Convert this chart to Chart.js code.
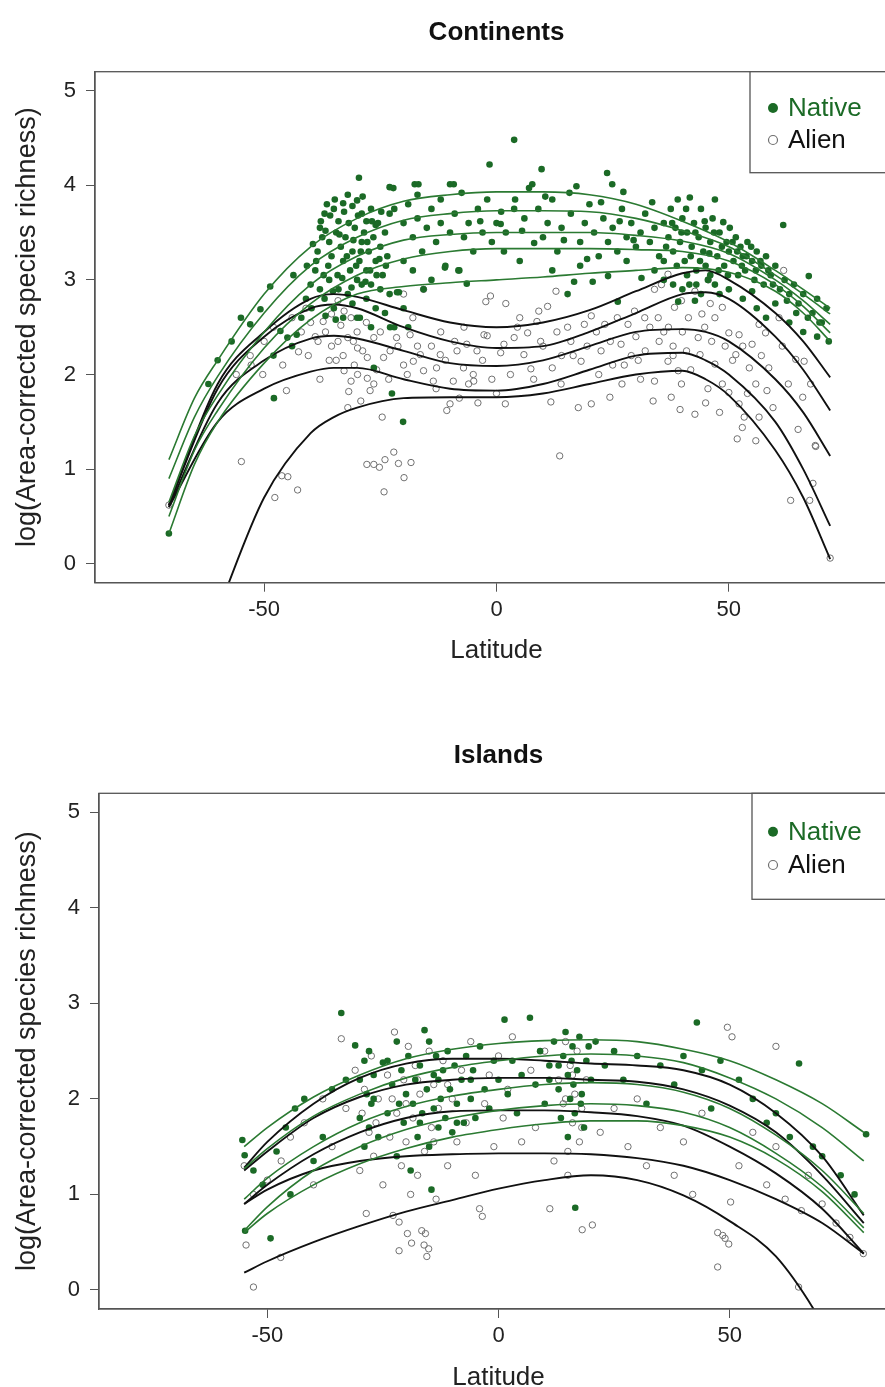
<!DOCTYPE html>
<html>
<head>
<meta charset="utf-8">
<script src="https://cdn.jsdelivr.net/npm/chart.js@4.4.1/dist/chart.umd.min.js"></script>
<style>
html, body { margin: 0; padding: 0; background: #fff; overflow: hidden; }
.painel { position: absolute; left: 0; }
#p1 { top: 0; }
#p2 { top: 695px; }
</style>
</head>
<body>
<div class="painel" id="p1"><canvas id="continentes" width="905" height="695"></canvas></div>
<div class="painel" id="p2"><canvas id="ilhas" width="905" height="720"></canvas></div>
<script>
// eixos
var xTicks = [-50, 0, 50];
var yTicks = [0, 1, 2, 3, 4, 5];
var rotuloX = 'Latitude';
var rotuloY = 'log(Area-corrected species richness)';
var nomesSerie = ['Native', 'Alien'];

// Continents - pontos [latitude, valor]
var contNative = [
  [-70.5,0.32],[-62,1.9],[-60,2.15],[-57,2.35],[-55,2.6],[-53,2.53],[-50.8,2.69],[-48.7,2.93],[-43.7,3.05],[-40.8,3.15],
  [-46.5,2.46],[-45,2.39],[-43,2.42],[-44,2.3],[-42,2.6],[-41,2.8],[-48,2.2],[-47.9,1.75],
  [-38,3.55],[-37,3.7],[-36.5,3.8],[-35,3.75],[-34,3.62],[-33,3.81],[-32,3.9],[-31,3.78],[-30,3.84],[-29.6,4.08],
  [-29,3.7],[-28,3.62],[-27,3.75],[-26,3.58],[-38.5,3.3],[-37.5,3.45],[-36,3.4],[-35.5,3.25],[-34.5,3.5],[-33.5,3.35],
  [-33,3.2],[-32.5,3.45],[-31.5,3.1],[-31,3.3],[-30.5,3.55],[-30,3.0],[-29.5,3.2],[-29,3.4],[-28.5,3.5],[-28,3.1],
  [-27.5,3.3],[-27,2.95],[-26.5,3.45],[-26,3.2],[-25.5,3.6],[-25,3.35],[-24.5,3.05],[-24,3.5],[-23.5,3.25],[-23,3.7],
  [-39,3.1],[-40,2.95],[-38,2.9],[-37,2.8],[-36,3.0],[-35,2.7],[-34,2.9],[-33,2.6],[-32,2.85],[-31,2.75],
  [-30,2.6],[-29,2.95],[-28,2.8],[-27,2.5],[-26,2.7],[-25,2.9],[-24,2.65],[-23,2.85],[-22,2.5],[-21,2.87],[-20,2.7],
  [-20.1,1.5],[-26.4,2.07],[-22.5,1.8],[-22.9,2.5],[-19,2.5],[-29.4,2.6],
  [-37.8,3.62],[-36.8,3.52],[-35.8,3.68],[-34.8,3.85],[-33.8,3.48],[-32.8,3.72],[-31.8,3.6],[-30.8,3.42],[-29.8,3.68],[-28.8,3.88],
  [-27.8,3.4],[-26.8,3.62],[-25.8,3.05],[-24.8,3.72],[-23.8,3.15],[-36.2,3.15],[-34.2,3.05],[-32.2,3.25],[-30.2,3.15],[-28.2,2.98],
  [-39.5,3.38],[-38.8,3.2],[-37.2,3.05],[-35.2,2.88],[-33.2,3.02],[-31.2,2.92],[-29.2,3.3],[-27.2,3.1],[-25.2,3.22],[-39.8,2.7],
  [-36.8,2.62],[-34.6,2.58],
  [-23,3.98],[-17.6,4.01],[-10,4.01],[-22.2,3.97],[-16.8,4.01],[-9.2,4.01],[-22,3.75],[-20,3.6],[-19,3.8],[-18,3.45],
  [-17,3.65],[-16,3.3],[-15,3.55],[-14,3.75],[-13,3.4],[-12,3.6],[-11,3.15],[-10,3.5],[-9,3.7],[-8,3.1],
  [-7,3.45],[-6.4,2.96],[-6,3.6],[-5,3.3],[-4,3.75],[-3,3.5],[-2,3.85],[-1,3.4],[0,3.6],[-15.7,2.9],
  [-11.1,3.13],[-8.2,3.1],[-18,3.1],[-20,3.2],[-14,3.0],[-21.4,2.87],[-17,3.9],[-12,3.85],
  [-7.5,3.92],[-3.5,3.62],[1,3.72],[5.5,3.52],[10.5,3.88],[14.5,3.42],[19.5,3.22],[22.5,3.82],[26.5,3.62],[29.5,3.42],[33.5,3.82],
  [3.8,4.48],[-1.5,4.22],[9.7,4.17],[23.8,4.13],[24.9,4.01],[27.3,3.93],[7.7,4.01],[17.2,3.99],[7,3.97],[15.7,3.92],
  [3.8,3.75],[0.9,3.59],[1.6,3.3],[8.1,3.39],[13.1,3.3],[15.3,2.85],[16.7,2.98],[20.7,2.98],[24,3.04],[26.1,2.77],
  [31.2,3.02],[2,3.5],[4,3.85],[5,3.2],[6,3.65],[9,3.75],[10,3.45],[11,3.6],[12,3.85],[14,3.55],
  [16,3.7],[18,3.4],[19,3.6],[20,3.8],[21,3.5],[22,3.25],[23,3.65],[24,3.4],[25,3.55],[26,3.3],
  [27,3.75],[28,3.45],[29,3.6],[30,3.35],[31,3.5],[32,3.7],[33,3.4],[34,3.55],[35,3.25],[12,3.1],
  [18,3.15],[28,3.2],[34,3.1],[36,3.0],
  [36,3.6],[37,3.45],[37.5,3.75],[38,3.3],[38.5,3.55],[39,3.85],[39.5,3.4],[40,3.65],[40.5,3.2],[41,3.5],
  [41.6,3.87],[42,3.35],[42.5,3.6],[43,3.1],[43.5,3.45],[44,3.75],[44.5,3.3],[45,3.55],[45.5,3.0],[46,3.4],
  [46.5,3.65],[47,3.85],[47.5,3.25],[48,3.5],[48.8,3.61],[49,3.15],[49.5,3.4],[50,3.3],[50.2,3.55],[51,3.2],
  [51.5,3.45],[52,3.05],[52.5,3.35],[53,3.25],[53.5,3.1],[54,3.4],[55,3.2],[55.5,3.0],[56,3.3],[57,3.15],
  [57.5,2.95],[58,3.25],[59,3.05],[60,3.15],[61,2.9],[61.7,3.58],[62,3.0],[63,2.85],[64,2.95],[65,2.75],
  [66,2.85],[67.2,3.04],[68,2.65],[69,2.8],[70,2.55],[71,2.7],[39.1,2.77],[42.7,2.78],[38,2.95],[40,2.9],
  [44,2.85],[36,3.2],[41,3.05],[45,3.15],[47,2.95],[50,2.9],[53,2.8],[56,2.7],[58,2.6],[60,2.75],
  [63,2.55],[66,2.45],[69,2.4],[71.5,2.35],
  [36.5,3.35],[37.8,3.6],[38.8,3.15],[39.8,3.5],[40.8,3.75],[41.8,3.25],[42.8,3.5],[43.8,3.2],[44.8,3.62],[45.8,3.28],
  [46.8,3.5],[47.8,3.1],[48.5,3.35],[49.8,3.05],[50.8,3.4],[51.8,3.3],[52.8,3.15],[53.8,3.25],[54.8,3.35],[55.8,3.1],
  [56.8,3.2],[58.5,3.1],[59.5,2.95],[62.5,2.78],[64.5,2.65],[67,2.6],[69.5,2.55],[43,2.95],[48,2.85],[46,3.05],
  [41.5,2.95],[55,2.88]
];
var contAlien = [
  [-70.5,0.62],[-54.9,1.08],[-47.7,0.7],[-46.2,0.93],[-44.9,0.92],[-42.8,0.78],[-27.9,1.05],[-26.4,1.05],[-25.2,1.02],[-24,1.1],
  [-22.1,1.18],[-21.1,1.06],[-19.9,0.91],[-18.4,1.07],[-24.2,0.76],[13.6,1.14],[63.3,0.67],[67.4,0.67],[68.1,0.85],[68.7,1.24],[71.8,0.06],
  [-45.2,1.83],[-50.3,2.0],[-52.8,2.1],[-40.5,2.2],[-42.6,2.24],[-38.4,2.35],[-35.5,2.3],[-34.1,2.35],[-32,2.39],[-29.9,2.28],
  [-27.8,2.18],[-30.6,2.1],[-29.9,2.0],[-27.8,1.96],[-26.4,1.9],[-27.2,1.83],[-32.8,2.04],[-31.3,1.93],[-24.3,2.18],[-22.9,2.25],
  [-20,2.1],[-17.9,2.14],[-15.7,2.04],[-13.6,1.93],[-10.7,1.62],[-10,1.69],[-24.6,1.55],[-32,1.65],[-15.7,2.9],[-2.3,2.77],
  [-1.3,2.83],[-34.1,2.78],[-31.3,2.6],[-32.8,2.67],[-35.5,2.64],[-37.3,2.56],[-26.4,2.39],[-21.5,2.39],[-18.6,2.42],[-16.4,2.21],
  [-12.1,2.21],[-8.5,2.25],[-6.4,2.32],[-4.2,2.25],[-2.7,2.42],[-9.3,1.93],[-4.9,1.93],[-12.9,2.07],[-7.1,2.07],
  [-56,2.0],[-53,2.2],[-50,2.35],[-48,2.5],[-46,2.1],[-44,2.6],[-42,2.45],[-41,2.7],[-40,2.55],[-39,2.4],
  [-36.8,2.45],[-33.5,2.52],[-30.8,2.35],[-28.8,2.25],[-25.8,2.05],[-23.2,1.95],[-21.2,2.3],[-19.2,2.0],[-17,2.3],[-34.5,2.15],
  [-31.8,1.82],[-29.2,1.72],
  [11,2.72],[12.8,2.88],[9.1,2.67],[8.7,2.56],[3.8,2.39],[6.7,2.44],[1.6,2.32],[-2,2.41],[0.9,2.23],[5.9,2.21],
  [7.4,2.06],[12,2.07],[13.9,1.9],[11.7,1.71],[17.6,1.65],[20.4,1.69],[24.4,1.76],[1.9,1.69],[15.3,2.5],[18.9,2.53],
  [20.4,2.62],[23.3,2.53],[22.5,2.25],[18.2,2.14],[26.8,2.32],[28.3,2.53],[29.7,2.67],[31.9,2.6],[34,2.9],[35.5,2.95],
  [34,1.93],[33.7,1.72],[36.9,2.14],[39.1,2.04],[39.8,1.9],[42.7,1.58],[39.5,1.63],[37.6,1.76],[44.2,2.64],[47,2.6],
  [48.6,2.71],[50,2.44],[52.2,2.42],[47,2.11],[48.6,1.9],[50,1.81],[52.2,1.69],[53.3,1.55],[52.9,1.44],[51.8,1.32],
  [55.8,1.3],[55,2.32],[56.5,2.53],[57.9,2.44],[58.6,2.07],[58.2,1.83],[60.8,2.6],[64.4,2.16],[66.2,2.14],[67.6,1.9],
  [65.9,1.76],[64.9,1.42],[68.6,1.25],[61.8,3.1],[39.8,2.78],[42.7,2.88],[38.3,2.71],[45.6,3.0],[36.9,3.06],[41.3,2.6],
  [43.4,2.39],[46.3,2.35],[40.9,2.25],[43.8,2.21],[51.5,2.21],[54.4,2.07],[55.8,1.9],
  [4.5,2.5],[9.5,2.35],[13,2.45],[16.5,2.2],[19.5,2.3],[21.5,2.45],[24.5,2.35],[26,2.6],[27.5,2.1],[30.5,2.15],
  [31,1.95],[34.8,2.6],[36,2.45],[38,2.2],[40,2.45],[41.8,2.05],[44.8,2.5],[45.5,1.85],[46,2.75],[49.2,2.3],
  [50.8,2.15],[53,2.3],[54,1.8],[57,2.2],[59.5,1.65],[61.5,2.3],[62.8,1.9],[45,1.7],[48,1.6],[56.5,1.55],
  [-14,2.3],[-12,2.45],[-11,2.15],[-9,2.35],[-7,2.5],[-5,2.0],[-3,2.15],[-1,1.95],[-13,1.85],[-8,1.75],
  [-6,1.9],[-4,1.7],[-20,2.85],[-18,2.6],[-25,2.45],[-28,2.55],[2,2.75],[5,2.6],[0,1.8],[3,2.0],
  [8,1.95],[10,2.3],[14,2.2],[16,2.35],[22,2.0],[25,2.1],[27,1.9],[29,2.2],[30,2.4],[32,2.25],
  [33,2.5],[35,2.35],[37,2.5],[38,2.3],[-30,2.45],[-33,2.2],[-36,2.15],[-38,1.95]
];

// Continents - curvas de quantis
var contNativeLat = [-70.5,-65,-60,-50,-40,-30,-20,-10,0,10,20,30,40,50,60,66,71.8];
var contNativeQ90 = [1.10,1.75,2.15,2.85,3.35,3.65,3.83,3.90,3.93,3.93,3.90,3.80,3.62,3.40,3.10,2.90,2.70];
var contNativeQ75 = [0.90,1.55,1.98,2.65,3.15,3.45,3.63,3.70,3.73,3.73,3.72,3.65,3.52,3.35,3.05,2.85,2.64];
var contNativeQ50 = [0.65,1.35,1.78,2.45,2.95,3.25,3.42,3.48,3.50,3.50,3.50,3.47,3.41,3.28,3.00,2.78,2.53];
var contNativeQ25 = [0.50,1.20,1.62,2.28,2.75,3.05,3.22,3.30,3.33,3.33,3.33,3.32,3.30,3.20,2.95,2.72,2.44];
var contNativeQ10 = [0.32,1.05,1.50,2.12,2.58,2.85,2.93,2.97,3.00,3.03,3.07,3.10,3.13,3.08,2.88,2.65,2.35];

var contAlienLat = [-70.5,-60,-50,-40,-35,-30,-20,-10,0,10,20,30,40,45,50,60,66,71.8];
var contAlienQ90 = [0.62,1.90,2.45,2.80,2.85,2.82,2.68,2.55,2.50,2.55,2.68,2.88,3.07,3.10,3.00,2.65,2.35,1.97];
var contAlienQ75 = [0.62,1.85,2.40,2.70,2.74,2.70,2.50,2.35,2.28,2.30,2.45,2.65,2.85,2.87,2.80,2.40,2.05,1.62];
var contAlienQ50 = [0.60,1.70,2.15,2.38,2.41,2.38,2.25,2.12,2.09,2.15,2.30,2.45,2.48,2.45,2.35,1.95,1.60,1.14];
var contAlienQ25 = [0.60,1.50,1.85,2.03,2.07,2.07,1.95,1.85,1.83,1.90,2.05,2.20,2.23,2.15,2.00,1.50,1.00,0.40];
var contAlienQ10 = [null,-0.50,0.70,1.38,1.55,1.65,1.75,1.76,1.76,1.80,1.90,2.00,2.04,1.95,1.78,1.20,0.70,0.05];

// Islands - pontos
var ilhaNative = [
  [-55.4,1.57],[-54.9,1.41],[-54.8,0.62],[-49.3,0.54],[-53,1.25],[-51,1.1],[-48,1.45],[-46,1.7],[-45,1.0],[-44,1.9],
  [-42,2.0],[-40,1.35],[-38,1.6],[-36,2.1],[-34,2.9],[-33,2.2],[-31,2.56],[-30,1.8],[-29,2.4],[-29,1.5],
  [-28.5,2.05],[-28,1.7],[-28,2.5],[-27.5,1.95],[-27,2.25],[-26,1.6],[-25,2.38],[-24,1.85],[-23,2.15],[-22,1.4],
  [-22,2.6],[-21,2.3],[-20.5,1.75],[-20,2.05],[-19.5,2.45],[-19,1.25],[-18.5,1.95],[-18,2.2],[-17.5,1.6],[-17,2.35],
  [-16.5,1.85],[-16,2.72],[-15.5,2.1],[-15,2.6],[-15,1.5],[-14.5,1.05],[-14,2.25],[-14,1.9],[-13.5,2.45],[-13,1.7],
  [-12.5,2.0],[-12,2.3],[-11.5,1.8],[-11,2.5],[-10.5,2.1],[-10,1.65],[-9.5,2.35],[-9,1.95],[-8,2.2],[-7.5,1.75],
  [-7,2.45],[-6,2.0],[-5.5,2.3],[-5,1.8],[-4,2.55],[-3,2.1],[-2,1.9],[-1,2.4],[0,2.2],[1.3,2.83],
  [2,2.05],[3,2.4],[4,1.85],[5,2.25],[6.8,2.85],[8,2.15],[9,2.5],[10,1.95],[11,2.35],[12,2.6],
  [13,2.1],[13.5,1.8],[14,2.45],[14.5,2.7],[15,2.25],[15,1.6],[15.5,2.0],[16,2.55],[16.5,1.85],[16.6,0.86],
  [17,2.3],[17.5,2.65],[18,2.05],[18.5,1.7],[19,2.4],[20,2.2],[21,2.6],[23,2.35],[25,2.5],[27,2.2],
  [30,2.45],[32,1.95],[35,2.35],[38,2.15],[40,2.45],[42.9,2.8],[44,2.3],[46,1.9],[48,2.4],[52,2.2],
  [55,2.0],[58,1.75],[60,1.85],[63,1.6],[65,2.37],[68,1.5],[70,1.4],[74,1.2],[79.5,1.63],[77,1.0],
  [-30,2.2],[-27,2.0],[-24,2.4],[-21.5,1.95],[-17,1.75],[-13,2.2],[-9,1.75],[-6,2.2],[11,2.2],[13,2.35],
  [15.8,2.4],[17.8,1.95],[19.5,2.55],[16.2,2.15]
];
var ilhaAlien = [
  [-54.6,0.47],[-53,0.03],[-47.1,0.34],[-55,1.3],[-53,1.0],[-50,1.15],[-47,1.35],[-45,1.6],[-42,1.75],[-40,1.1],
  [-38,2.0],[-36,1.5],[-34,2.63],[-33,1.9],[-31,2.3],[-30,1.25],[-29,2.1],[-28.6,0.8],[-28,1.65],[-27.5,2.45],
  [-27,1.4],[-26,2.0],[-25,1.1],[-24,2.25],[-23.5,1.6],[-22.8,0.78],[-22.5,2.7],[-22,1.85],[-21.5,0.71],[-21.5,0.41],
  [-21,1.3],[-20.5,2.2],[-20,1.55],[-19.7,0.59],[-19.5,2.55],[-19,1.0],[-18.8,0.49],[-18.5,1.8],[-18,2.35],[-17.5,1.2],
  [-17,2.05],[-16.6,0.62],[-16.1,0.47],[-16,1.45],[-15.8,0.59],[-15.5,0.35],[-15.1,0.43],[-15,2.5],[-14.5,1.7],[-14,2.15],
  [-13.5,0.95],[-13,1.9],[-12,2.4],[-11,1.3],[-10,2.0],[-9,1.55],[-8,2.3],[-7,1.75],[-6,2.6],[-5,1.2],
  [-4.1,0.85],[-3.5,0.77],[-3,1.95],[-2,2.25],[-1,1.5],[0,2.45],[1,1.8],[2,2.1],[3,2.65],[5,1.55],
  [7,2.3],[8,1.7],[10,2.5],[11.1,0.85],[12,1.35],[13,2.2],[14,1.95],[14.5,2.6],[15,1.45],[15.5,2.35],
  [16,1.75],[16.5,2.05],[17,2.5],[17.5,1.55],[18.1,0.63],[18,1.9],[19,2.2],[20.3,0.68],[22,1.65],[25,1.9],
  [28,1.5],[30,2.0],[32,1.3],[35,1.7],[38,1.2],[40,1.55],[42,1.0],[44,1.85],[49.5,2.75],[47.4,0.6],
  [47.4,0.24],[48.5,0.57],[49,0.54],[49.8,0.48],[50.2,0.92],[50.5,2.65],[52,1.3],[55,1.65],[60,2.55],[58,1.1],
  [60,1.5],[62,0.95],[64.9,0.03],[65.5,0.83],[67,1.2],[70,0.9],[73,0.7],[76,0.55],[78.9,0.38],
  [-29.5,1.85],[-26.5,1.75],[-23,2.0],[-20,1.95],[-17.5,2.2],[-14,1.55],[-11,2.15],[14.5,2.0],[16,2.25],[18,1.7],
  [15,1.2]
];

// Islands - curvas de quantis
var ilhaLat = [-55,-50,-40,-30,-20,-10,0,10,20,30,40,50,60,70,79];
var ilhaNativeQ90 = [1.50,1.70,2.02,2.25,2.42,2.52,2.58,2.61,2.62,2.60,2.52,2.40,2.20,1.95,1.65];
var ilhaNativeQ75 = [1.27,1.48,1.82,2.05,2.22,2.33,2.40,2.45,2.47,2.45,2.38,2.22,2.00,1.70,1.35];
var ilhaNativeQ50 = [0.95,1.17,1.50,1.75,1.92,2.03,2.10,2.15,2.17,2.15,2.07,1.90,1.62,1.25,0.80];
var ilhaNativeQ25 = [0.62,0.87,1.25,1.50,1.68,1.80,1.88,1.93,1.95,1.93,1.86,1.70,1.43,1.08,0.65];
var ilhaNativeQ10 = [0.60,0.80,1.10,1.32,1.48,1.60,1.68,1.74,1.77,1.77,1.72,1.60,1.37,1.03,0.60];
var ilhaAlienQ90 = [1.28,1.55,1.95,2.22,2.37,2.42,2.42,2.40,2.37,2.35,2.30,2.15,1.85,1.40,0.78];
var ilhaAlienQ75 = [1.25,1.45,1.80,2.02,2.15,2.20,2.22,2.22,2.20,2.18,2.10,1.93,1.65,1.20,0.70];
var ilhaAlienQ50 = [0.90,1.10,1.42,1.65,1.80,1.87,1.88,1.88,1.86,1.82,1.72,1.50,1.22,0.85,0.38];
var ilhaAlienQ25 = [0.90,1.05,1.25,1.35,1.40,1.42,1.43,1.43,1.42,1.38,1.30,1.15,0.95,0.70,0.38];
var ilhaAlienQ10 = [0.18,0.30,0.50,0.67,0.82,0.94,1.06,1.15,1.20,1.15,0.99,0.72,0.35,-0.35,-1.20];

var verdePonto = '#1b6a26';
var verdeLinha = '#2b7a32';
var cinzaPonto = '#707070';
var fonte = "'Liberation Sans', Arial, sans-serif";

function pares(lista) {
    return lista.map(function (p) { return { x: p[0], y: p[1] }; });
}

function curva(lat, valores, cor, largura) {
    return {
        data: lat.map(function (x, i) { return { x: x, y: valores[i] }; }),
        showLine: true,
        borderColor: cor,
        borderWidth: largura,
        pointRadius: 0,
        cubicInterpolationMode: 'monotone',
        spanGaps: false,
        clip: 0,
        order: 0
    };
}

// titulo, moldura e legenda desenhados por cima
var extras = {
    id: 'extras',
    afterDraw: function (chart) {
        var cfg = chart.options.plugins.extras;
        var ctx = chart.ctx;
        var area = chart.chartArea;
        ctx.save();
        ctx.fillStyle = '#111';
        ctx.font = 'bold 26px ' + fonte;
        ctx.textAlign = 'center';
        ctx.textBaseline = 'middle';
        ctx.fillText(cfg.titulo, (area.left + area.right) / 2, cfg.tituloY);

        ctx.strokeStyle = '#555';
        ctx.lineWidth = 1.3;
        ctx.strokeRect(area.left, area.top, area.right - area.left, area.bottom - area.top);

        // legenda
        ctx.fillStyle = '#fff';
        ctx.fillRect(cfg.legX, area.top, 300, cfg.legBaixo - area.top);
        ctx.strokeRect(cfg.legX, area.top, 300, cfg.legBaixo - area.top);
        ctx.font = '26px ' + fonte;
        ctx.textAlign = 'left';
        ctx.beginPath();
        ctx.arc(773, cfg.linhaNative, 5, 0, Math.PI * 2);
        ctx.fillStyle = verdePonto;
        ctx.fill();
        ctx.fillText(nomesSerie[0], 788, cfg.linhaNative + 1);
        ctx.beginPath();
        ctx.arc(773, cfg.linhaAlien, 4.5, 0, Math.PI * 2);
        ctx.strokeStyle = cinzaPonto;
        ctx.lineWidth = 1.2;
        ctx.stroke();
        ctx.fillStyle = '#111';
        ctx.fillText(nomesSerie[1], 788, cfg.linhaAlien + 1);
        ctx.restore();
    }
};

function montaPainel(idCanvas, cfg) {
    var datasets = [];
    cfg.fitsNative.forEach(function (v) { datasets.push(curva(cfg.latNative, v, verdeLinha, 1.6)); });
    cfg.fitsAlien.forEach(function (v) { datasets.push(curva(cfg.latAlien, v, '#111', 1.9)); });
    datasets.push({
        label: nomesSerie[0],
        data: pares(cfg.native),
        pointRadius: 3.3,
        pointBackgroundColor: verdePonto,
        pointBorderWidth: 0,
        order: 1
    });
    datasets.push({
        label: nomesSerie[1],
        data: pares(cfg.alien),
        pointRadius: 3.2,
        pointBackgroundColor: 'rgba(0,0,0,0)',
        pointBorderColor: cinzaPonto,
        pointBorderWidth: 1,
        order: 2
    });

    var canvas = document.getElementById(idCanvas);

    new Chart(canvas, {
        type: 'scatter',
        data: { datasets: datasets },
        options: {
            responsive: false,
            animation: false,
            events: [],
            layout: { padding: { top: cfg.topo, left: 0, right: 7, bottom: 0 } },
            plugins: {
                legend: { display: false },
                tooltip: { enabled: false },
                extras: cfg
            },
            scales: {
                x: {
                    type: 'linear',
                    min: -86.4,
                    max: 86.4,
                    afterBuildTicks: function (s) { s.ticks = xTicks.map(function (v) { return { value: v }; }); },
                    afterFit: function (s) { s.height = canvas.height - cfg.base; },
                    grid: { drawOnChartArea: false, drawTicks: true, tickLength: 9, color: '#555' },
                    border: { display: true, color: '#555', width: 1.3 },
                    ticks: { font: { family: fonte, size: 22 }, color: '#222', padding: 5, maxRotation: 0 },
                    title: { display: true, text: rotuloX, font: { family: fonte, size: 26 }, color: '#222', padding: { top: 0, bottom: cfg.padLat } }
                },
                y: {
                    min: -0.2,
                    max: 5.2,
                    afterBuildTicks: function (s) { s.ticks = yTicks.map(function (v) { return { value: v }; }); },
                    afterFit: function (s) { s.width = cfg.esquerda; },
                    grid: { drawOnChartArea: false, drawTicks: true, tickLength: 9, color: '#555' },
                    border: { display: true, color: '#555', width: 1.3 },
                    ticks: { font: { family: fonte, size: 22 }, color: '#222', padding: 10 },
                    title: { display: true, text: rotuloY, font: { family: fonte, size: 27 }, color: '#222', padding: { top: 11, bottom: 0 } }
                }
            }
        },
        plugins: [extras]
    });
}

montaPainel('continentes', {
    titulo: 'Continents', tituloY: 33,
    topo: 71.7, base: 582.7, esquerda: 95, padLat: 29,
    legX: 750, legBaixo: 172.7, linhaNative: 108, linhaAlien: 140,
    native: contNative, alien: contAlien,
    latNative: contNativeLat, fitsNative: [contNativeQ90, contNativeQ75, contNativeQ50, contNativeQ25, contNativeQ10],
    latAlien: contAlienLat, fitsAlien: [contAlienQ90, contAlienQ75, contAlienQ50, contAlienQ25, contAlienQ10]
});

montaPainel('ilhas', {
    titulo: 'Islands', tituloY: 61,
    topo: 98.3, base: 614, esquerda: 99, padLat: 22,
    legX: 752, legBaixo: 204.3, linhaNative: 136.7, linhaAlien: 170,
    native: ilhaNative, alien: ilhaAlien,
    latNative: ilhaLat, fitsNative: [ilhaNativeQ90, ilhaNativeQ75, ilhaNativeQ50, ilhaNativeQ25, ilhaNativeQ10],
    latAlien: ilhaLat, fitsAlien: [ilhaAlienQ90, ilhaAlienQ75, ilhaAlienQ50, ilhaAlienQ25, ilhaAlienQ10]
});
</script>
</body>
</html>
